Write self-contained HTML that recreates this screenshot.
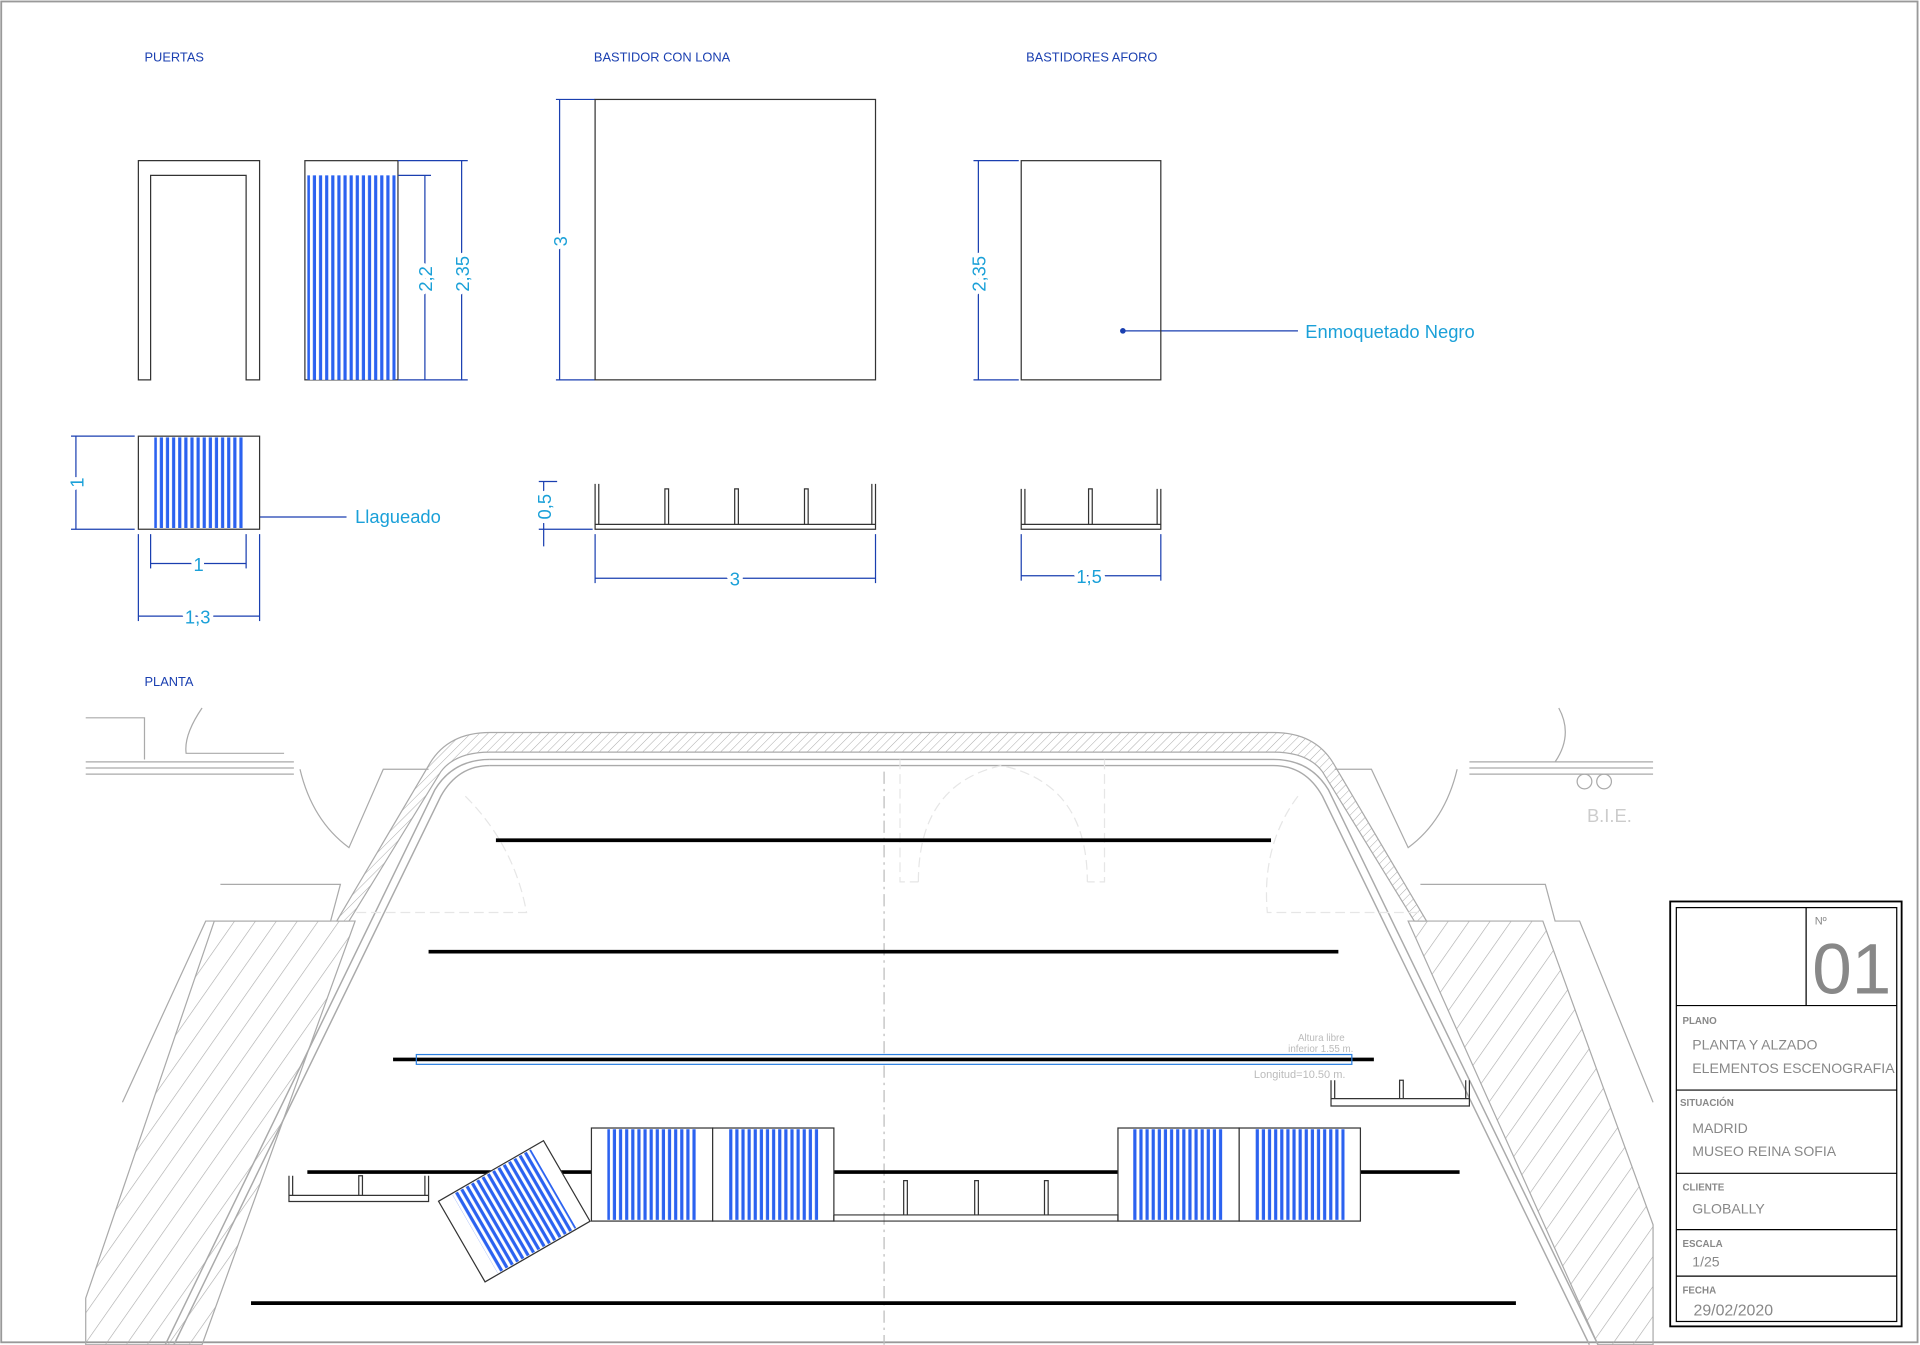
<!DOCTYPE html>
<html><head><meta charset="utf-8"><style>
html,body{margin:0;padding:0;background:#fff}
svg{display:block}
text{font-family:"Liberation Sans",sans-serif}
.dim text{paint-order:stroke;stroke:#fff;stroke-width:7px;stroke-linejoin:round}
</style></head><body>
<svg width="1920" height="1345" viewBox="0 0 1568 1098" xmlns="http://www.w3.org/2000/svg">
<defs>
<pattern id="st" width="5" height="10" patternUnits="userSpaceOnUse"><rect width="5" height="10" fill="#fff"/><rect x="0.5" width="2.6" height="10" fill="#2b62f0"/></pattern>
<pattern id="hat" width="14" height="14" patternUnits="userSpaceOnUse" patternTransform="rotate(35)"><line x1="0" y1="0" x2="0" y2="14" stroke="#aaa" stroke-width="1"/></pattern>
<pattern id="hat2" width="5" height="5" patternUnits="userSpaceOnUse" patternTransform="rotate(45)"><line x1="0" y1="0" x2="0" y2="5" stroke="#aaa" stroke-width="0.8"/></pattern>
</defs>
<rect x="1" y="1" width="1565" height="1095" fill="#fff" stroke="#999" stroke-width="1.5"/>
<g fill="#1a3fb0" font-size="10.5">
<text x="118" y="50">PUERTAS</text><text x="485" y="50">BASTIDOR CON LONA</text><text x="838" y="50">BASTIDORES AFORO</text><text x="118" y="560">PLANTA</text>
</g>
<path d="M113 310V131H212V310H201V143H123V310Z" fill="none" stroke="#333"/>
<rect x="249" y="131" width="76" height="179" fill="#fff" stroke="#333"/>
<rect x="251" y="143" width="72" height="167" fill="url(#st)"/>
<g stroke="#1a3fb0" fill="#1a3fb0" stroke-width="1">
<line x1="347" y1="143" x2="347" y2="310"/><line x1="377" y1="131" x2="377" y2="310"/>
<line x1="325" y1="143" x2="352" y2="143"/><line x1="325" y1="131" x2="382" y2="131"/><line x1="325" y1="310" x2="382" y2="310"/>
<line x1="62" y1="356" x2="62" y2="432"/><line x1="58" y1="356" x2="110" y2="356"/><line x1="58" y1="432" x2="110" y2="432"/>
<line x1="123" y1="460" x2="201" y2="460"/><line x1="123" y1="436" x2="123" y2="464"/><line x1="201" y1="436" x2="201" y2="464"/>
<line x1="113" y1="503" x2="212" y2="503"/><line x1="113" y1="436" x2="113" y2="507"/><line x1="212" y1="436" x2="212" y2="507"/>
<line x1="141" y1="422" x2="283" y2="422"/>
<line x1="457" y1="81" x2="457" y2="310"/><line x1="454" y1="81" x2="486" y2="81"/><line x1="454" y1="310" x2="486" y2="310"/>
<line x1="444" y1="393" x2="444" y2="446"/><line x1="440" y1="393" x2="455" y2="393"/><line x1="440" y1="432" x2="484" y2="432"/>
<line x1="486" y1="472" x2="715" y2="472"/><line x1="486" y1="436" x2="486" y2="476"/><line x1="715" y1="436" x2="715" y2="476"/>
<line x1="799" y1="131" x2="799" y2="310"/><line x1="795" y1="131" x2="832" y2="131"/><line x1="795" y1="310" x2="832" y2="310"/>
<line x1="917" y1="270" x2="1060" y2="270"/>
<line x1="834" y1="470" x2="948" y2="470"/><line x1="834" y1="436" x2="834" y2="474"/><line x1="948" y1="436" x2="948" y2="474"/>
<circle cx="141" cy="422" r="1.8"/><circle cx="917" cy="270" r="1.8"/>
</g>
<rect x="113" y="356" width="99" height="76" fill="#fff" stroke="#333"/>
<rect x="126" y="357" width="74" height="74" fill="url(#st)"/>
<g fill="#1aa0d8" font-size="15" class="dim">
<text x="290" y="427">Llagueado</text><text x="1066" y="276">Enmoquetado Negro</text>
<text x="158" y="466">1</text><text x="151" y="509">1,3</text><text x="596" y="478">3</text><text x="879" y="476">1,5</text>
<text transform="translate(353,238) rotate(-90)">2,2</text>
<text transform="translate(383,238) rotate(-90)">2,35</text>
<text transform="translate(68,398) rotate(-90)">1</text>
<text transform="translate(463,201) rotate(-90)">3</text>
<text transform="translate(450,424) rotate(-90)">0,5</text>
<text transform="translate(805,238) rotate(-90)">2,35</text>
</g>
<rect x="486" y="81" width="229" height="229" fill="none" stroke="#333"/>
<g fill="none" stroke="#333">
<path d="M486 395V432H715V395"/><line x1="486" y1="428" x2="715" y2="428"/>
<path d="M543 428V399h3V428M600 428V399h3V428M657 428V399h3V428M489 428V395M712 428V395"/>
<rect x="834" y="131" width="114" height="179"/>
<path d="M834 399V432H948V399"/><line x1="834" y1="428" x2="948" y2="428"/>
<path d="M889 428V399h3V428M837 428V399M945 428V399"/>
</g>
<g fill="none" stroke="#aaa" stroke-width="1">
<path d="M70 586H118V620M70 622H240M70 627H240M70 632H240"/>
<path d="M165 578Q150 600 152 615H232M245 628Q255 670 285 692L313 628H350"/>
<path d="M1273 578Q1285 600 1270 622M1200 622H1350M1200 627H1350M1200 632H1350M1190 628Q1180 670 1150 692L1120 628H1090"/>
<circle cx="1294" cy="638" r="6"/><circle cx="1310" cy="638" r="6"/>
</g>
<text x="1296" y="671" fill="#ccc" font-size="15">B.I.E.</text>
<path d="M400 598H1040Q1075 598 1090 625L1165 752H1155L1080 630Q1068 614 1040 614H400Q372 614 360 630L285 752H275L350 625Q365 598 400 598Z" fill="url(#hat2)" stroke="#aaa"/>
<g fill="none" stroke="#aaa" stroke-width="1.2">
<path d="M400 620H1040Q1070 620 1085 645L1305 1098"/><path d="M400 620Q370 620 355 645L135 1098"/>
<path d="M400 625H1040Q1066 625 1080 650L1298 1098"/><path d="M400 625Q374 625 360 650L142 1098"/>
</g>
<g fill="none" stroke="#e6e6e6" stroke-dasharray="8 4">
<path d="M380 650Q420 690 430 745H290"/><path d="M1060 650Q1030 690 1035 745H1160"/>
<path d="M735 620V720H750M902 620V720H888M750 720Q750 640 818 625Q888 640 888 720"/>
</g>
<path d="M175 752H290L165 1098H70L70 1060Z" fill="url(#hat)" stroke="#aaa"/>
<path d="M1150 752H1260L1350 1000V1098H1305Z" fill="url(#hat)" stroke="#aaa"/>
<path d="M180 722H278L270 752H168L100 900" fill="none" stroke="#aaa"/>
<path d="M1160 722H1262L1270 752H1290L1350 900" fill="none" stroke="#aaa"/>
<line x1="722" y1="630" x2="722" y2="1098" stroke="#bbb" stroke-dasharray="10 4 2 4"/>
<text x="1060" y="850" fill="#bbb" font-size="8">Altura libre</text><text x="1052" y="859" fill="#bbb" font-size="8">inferior 1.55 m.</text>
<text x="1024" y="880" fill="#bbb" font-size="9">Longitud=10.50 m.</text>
<g stroke="#000" stroke-width="3">
<line x1="405" y1="686" x2="1038" y2="686"/><line x1="350" y1="777" x2="1093" y2="777"/>
<line x1="321" y1="865" x2="1122" y2="865"/><line x1="251" y1="957" x2="1192" y2="957"/>
<line x1="205" y1="1064" x2="1238" y2="1064"/>
</g>
<rect x="340" y="861" width="764" height="8" fill="none" stroke="#2b7fe0"/>
<g stroke="#333" fill="#fff">
<rect x="483" y="921" width="99" height="76"/><rect x="582" y="921" width="99" height="76"/>
<rect x="913" y="921" width="99" height="76"/><rect x="1012" y="921" width="99" height="76"/>
</g>
<rect x="496" y="922" width="74" height="74" fill="url(#st)"/><rect x="595" y="922" width="74" height="74" fill="url(#st)"/>
<rect x="925" y="922" width="74" height="74" fill="url(#st)"/><rect x="1024" y="922" width="74" height="74" fill="url(#st)"/>
<g transform="translate(420,989) rotate(-30)">
<rect x="-49.5" y="-38" width="99" height="76" fill="#fff" stroke="#333"/>
<rect x="-37" y="-37" width="74" height="74" fill="url(#st)"/>
</g>
<g fill="none" stroke="#333">
<path d="M681 992V997H913V992H681M738 992V964h3V992M796 992V964h3V992M853 992V964h3V992"/>
<path d="M236 960V981H350V960M236 976H350M293 976V960h3V976M239 976V960M347 976V960"/>
<path d="M1087 882V903H1200V882M1087 897H1200M1143 897V882h3V897M1090 897V882M1197 897V882"/>
</g>
<rect x="1364" y="736" width="189" height="347" fill="#fff" stroke="#000" stroke-width="1.5"/>
<g fill="none" stroke="#000" stroke-width="1">
<rect x="1369" y="741" width="180" height="338"/>
<line x1="1475" y1="741" x2="1475" y2="821"/>
<line x1="1369" y1="821" x2="1549" y2="821"/><line x1="1369" y1="890" x2="1549" y2="890"/>
<line x1="1369" y1="958" x2="1549" y2="958"/><line x1="1369" y1="1004" x2="1549" y2="1004"/>
<line x1="1369" y1="1042" x2="1549" y2="1042"/>
</g>
<g fill="#888">
<text x="1482" y="755" font-size="9">Nº</text>
<text x="1480" y="811" font-size="58">01</text>
<g font-size="8" font-weight="bold"><text x="1374" y="836">PLANO</text><text x="1372" y="903">SITUACIÓN</text><text x="1374" y="972">CLIENTE</text><text x="1374" y="1018">ESCALA</text><text x="1374" y="1056">FECHA</text></g>
<g font-size="11.5"><text x="1382" y="857">PLANTA Y ALZADO</text><text x="1382" y="876">ELEMENTOS ESCENOGRAFIA</text>
<text x="1382" y="925">MADRID</text><text x="1382" y="944">MUSEO REINA SOFIA</text><text x="1382" y="991">GLOBALLY</text><text x="1382" y="1034">1/25</text></g>
<text x="1383" y="1074" font-size="13">29/02/2020</text>
</g>
</svg>
</body></html>
